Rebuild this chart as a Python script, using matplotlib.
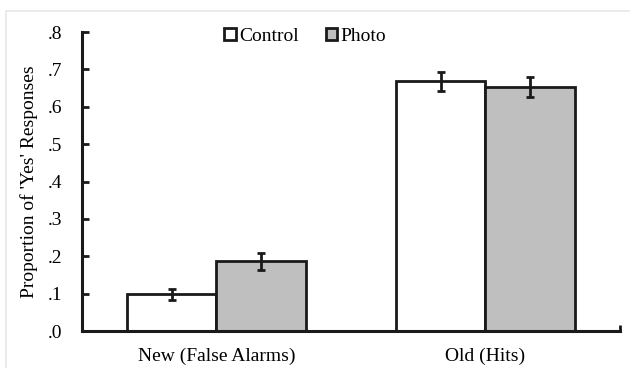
import numpy as np
import matplotlib.pyplot as plt
from matplotlib.patches import Rectangle

# data
categories = ["New (False Alarms)", "Old (Hits)"]
control = [0.098, 0.668]
photo = [0.187, 0.653]
control_err = [0.015, 0.025]
photo_err = [0.023, 0.026]
yticks = [0.0, 0.1, 0.2, 0.3, 0.4, 0.5, 0.6, 0.7, 0.8]
ytick_labels = [".0", ".1", ".2", ".3", ".4", ".5", ".6", ".7", ".8"]

plt.rcParams["font.family"] = ["Liberation Serif", "DejaVu Serif"]

fig = plt.figure(figsize=(6.3, 3.68), dpi=100)
ax = fig.add_axes([0.130, 0.1005, 0.854, 0.8125])

# light frame around the chart area
fig.patches.append(Rectangle((6 / 630, -0.1), 1.2, 1 - 11 / 368 + 0.1, transform=fig.transFigure,
                             fill=False, edgecolor="#e8e8e8", linewidth=1.2))

x = np.arange(len(categories))
w = 1 / 3
ekw = dict(ecolor="#1a1a1a", elinewidth=2, capsize=3, capthick=2)
ax.bar(x - w / 2, control, w, yerr=control_err, color="white", edgecolor="#1a1a1a",
       linewidth=2, error_kw=ekw, label="Control")
ax.bar(x + w / 2, photo, w, yerr=photo_err, color="#bfbfbf", edgecolor="#1a1a1a",
       linewidth=2, error_kw=ekw, label="Photo")

ax.set_xlim(-0.5, 1.5)
ax.set_ylim(0, 0.8)
ax.set_xticks(x)
ax.set_xticklabels(categories, fontsize=14)
ax.tick_params(axis="x", length=0, pad=12)
ax.set_yticks(yticks)
ax.set_yticklabels(ytick_labels, fontsize=14)
ax.tick_params(axis="y", direction="in", length=5, width=2, color="#1a1a1a", pad=14)
ax.set_xticks([1.5], minor=True)
ax.tick_params(axis="x", which="minor", direction="in", length=4, width=2, color="#1a1a1a")

for s in ["top", "right"]:
    ax.spines[s].set_visible(False)
for s in ["left", "bottom"]:
    ax.spines[s].set_linewidth(2.2)
    ax.spines[s].set_color("#1a1a1a")

ax.set_ylabel("Proportion of 'Yes' Responses", fontsize=14, labelpad=7)

ax.legend(loc="upper center", bbox_to_anchor=(0.415, 1.072), ncol=2, frameon=False, fontsize=14,
          handlelength=0.6, handleheight=0.6, handletextpad=0.15, columnspacing=1.4)

fig.savefig("out.png", dpi=100)
